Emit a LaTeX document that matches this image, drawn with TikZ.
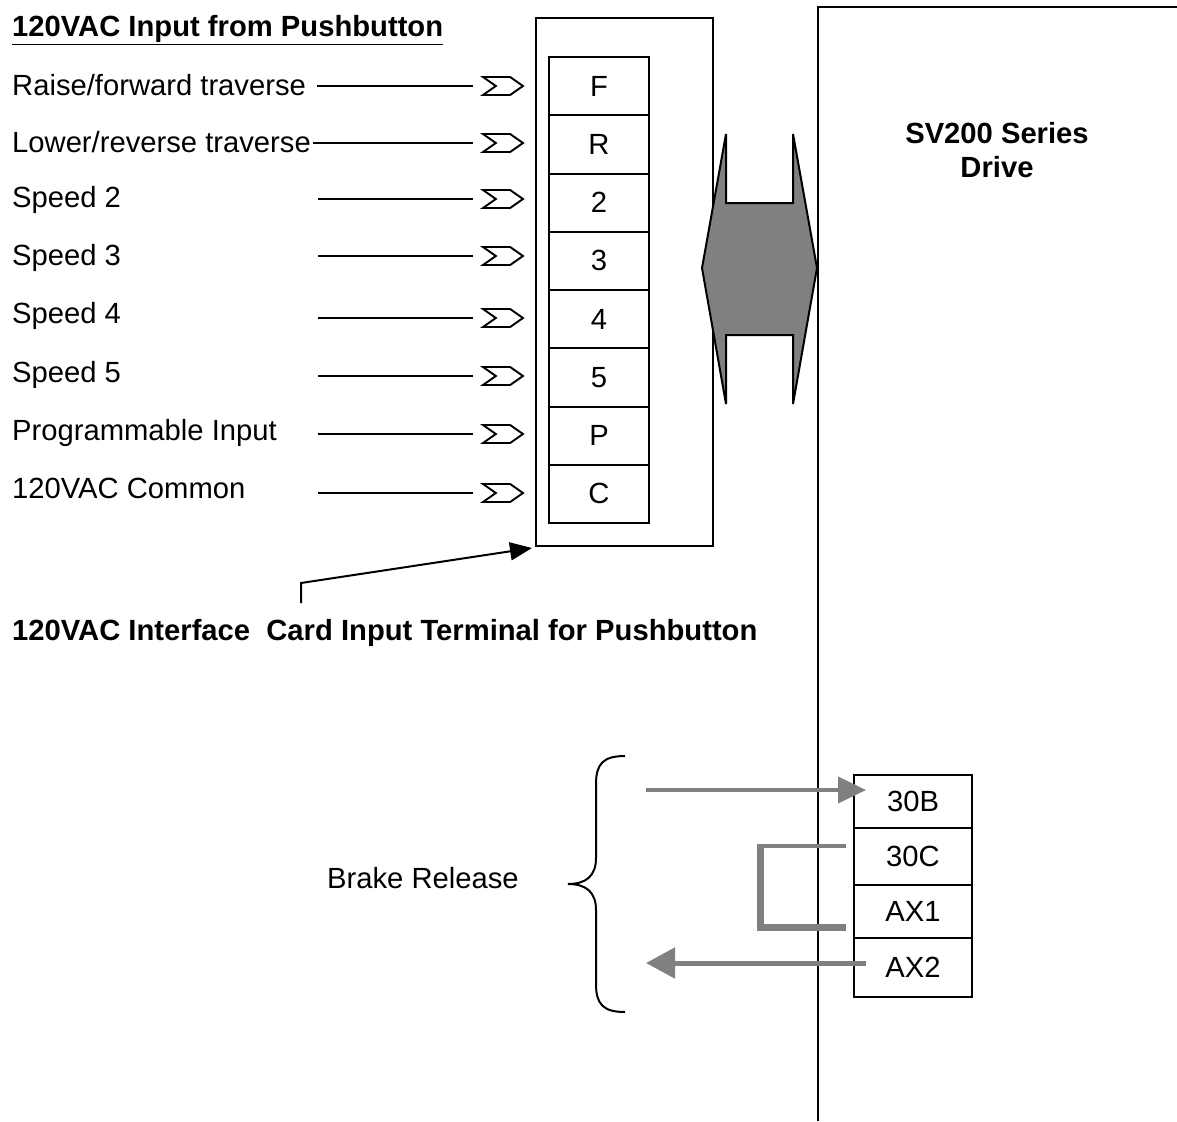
\documentclass[tikz,border=0pt]{standalone}
\usepackage{fontspec}
\setmainfont{Liberation Sans}
\usetikzlibrary{arrows.meta,shapes.symbols}
\definecolor{gfill}{RGB}{128,128,128}
\begin{document}
\begin{tikzpicture}[x=1pt,y=-1pt,
  lw/.style={line width=2pt},
  txt/.style={anchor=base west, inner sep=0pt, font=\fontsize{29.2}{34}\selectfont},
  btxt/.style={anchor=base west, inner sep=0pt, font=\fontsize{29.2}{34}\selectfont\bfseries},
  cell/.style={draw, line width=2pt, minimum width=100pt, minimum height=58.25pt, inner sep=0pt, font=\fontsize{29.2}{34}\selectfont},
  cellb/.style={draw, line width=1.6pt, minimum width=118pt, inner sep=0pt, font=\fontsize{29.2}{34}\selectfont},
  chev/.style={signal, draw, line width=1.9pt, signal to=east, signal from=west, signal pointer angle=70, minimum width=40pt, minimum height=18pt, inner sep=0pt},
  lead/.style={line width=1.6pt},
  garrow/.style={draw=gfill, line width=4pt, -{Triangle[length=28pt,width=26pt]}},
  gline/.style={draw=gfill}
]
\useasboundingbox (0,0) rectangle (1177,1121);
\fill[white] (0,0) rectangle (1177,1121);

% title
\node[btxt] (title) at (12,37) {\underline{120VAC Input from Pushbutton}};

% interface card outer box
\node[draw, lw, minimum width=177pt, minimum height=528pt, anchor=north west, inner sep=0pt] (card) at (535,17) {};

% terminal cells
\foreach \n [count=\i from 0] in {F,R,2,3,4,5,P,C}
  \node[cell] (t\n) at (599,{57+58.25*\i+29.125}) {\n};

% input labels
\node[txt] (lF) at (12,96)  {Raise/forward traverse};
\node[txt] (lR) at (12,153) {Lower/reverse traverse};
\node[txt] (l2) at (12,207) {Speed 2};
\node[txt] (l3) at (12,265) {Speed 3};
\node[txt] (l4) at (12,323) {Speed 4};
\node[txt] (l5) at (12,382) {Speed 5};
\node[txt] (lP) at (12,440) {Programmable Input};
\node[txt] (lC) at (12,498) {120VAC Common};

% chevrons and leads
\foreach \n/\y/\xs in {F/86/317,R/143/313,2/199/318,3/256/318,4/318/318,5/376/318,P/434/318,C/493/318}{
  \node[chev] (c\n) at (503,\y) {};
  \coordinate (s\n) at (\xs,\y);
  \coordinate (e\n) at (473,\y);
  \draw[lead] (s\n) -- (e\n);
}

% double arrow
\draw[lw, fill=gfill, line join=miter] (726,134) -- (726,203) -- (793,203) -- (793,134) -- (817,268) -- (793,404) -- (793,335) -- (726,335) -- (726,404) -- (702,268) -- cycle;

% drive boundary
\coordinate (d0) at (818,1121);
\coordinate (d1) at (818,7);
\coordinate (d2) at (1177,7);
\draw[lw] (d0) -- (d1) -- (d2);
\node[align=center, font=\fontsize{29.2}{34}\selectfont\bfseries, inner sep=0pt] (drive) at (997,150) {SV200 Series\\Drive};

% callout
\coordinate (cb) at (301,603);
\draw[lw, -{Triangle[length=22pt,width=18pt]}] (cb) -- (301,583) -- ([shift={(-3pt,-1pt)}]card.south west);
\node[btxt] (cardlbl) at (12,640) {120VAC Interface~ Card Input Terminal for Pushbutton};

% relay terminals
\node[cellb, minimum height=53pt] (t30B) at (913,801.5) {30B};
\node[cellb, minimum height=57pt] (t30C) at (913,856.5) {30C};
\node[cellb, minimum height=53pt] (tAX1) at (913,911.5) {AX1};
\node[cellb, minimum height=59pt] (tAX2) at (913,967.5) {AX2};

% brace
\draw[lw] (625,756) .. controls (603,756) and (596,764) .. (596,784) -- (596,858)
  .. controls (596,876) and (586,884) .. (568,884)
  .. controls (586,884) and (596,892) .. (596,910) -- (596,984)
  .. controls (596,1004) and (603,1012) .. (625,1012);
\node[txt] (brake) at (327,888) {Brake Release};

% gray arrows
\coordinate (ga) at (646,790);
\coordinate (gb) at (866,790);
\draw[garrow] (ga) -- (gb);
\coordinate (gc) at (866,963);
\coordinate (gd) at (646,963);
\draw[garrow, line width=5pt, -{Triangle[length=29pt,width=30pt]}] (gc) -- (gd);

% jumper
\coordinate (j1) at (846,846);
\coordinate (j2) at (760,846);
\coordinate (j3) at (760,927);
\coordinate (j4) at (846,927);
\draw[gline, line width=3.3pt] (j1) -- ([xshift=-3.5pt]j2);
\draw[gline, line width=7pt] ([yshift=-1.6pt]j2) -- (j3);
\draw[gline, line width=7pt] ([xshift=-3.5pt]j3) -- (j4);
\end{tikzpicture}
\end{document}
